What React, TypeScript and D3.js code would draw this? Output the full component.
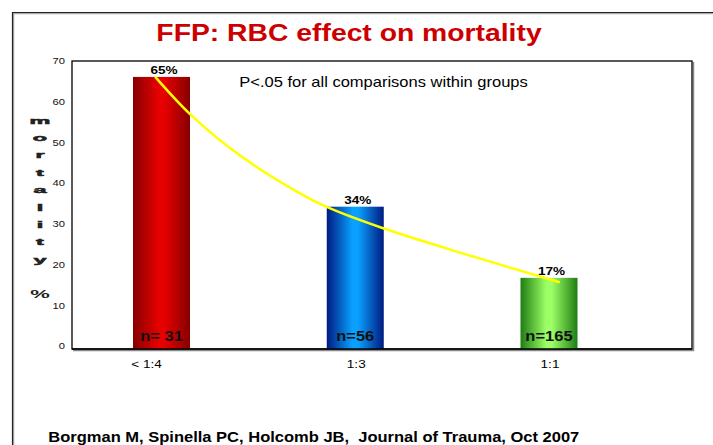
import React from "react";
import * as d3 from "d3";

const categories = ["< 1:4", "1:3", "1:1"];
const mortality = [65, 34, 17];
const pctLabels = ["65%", "34%", "17%"];
const nLabels = ["n= 31", "n=56", "n=165"];
const yTicks = [0, 10, 20, 30, 40, 50, 60, 70];
// trend curve: x as fractional category index, y as mortality %
const trendIdx = [-0.03, 0.15, 0.4, 0.71, 0.85, 1.14, 1.58, 2.05];
const trendVal = [64.9, 56.0, 46.4, 37.3, 34.0, 28.9, 22.5, 16.0];
const axisLetters = ["m", "o", "r", "t", "a", "l", "i", "t", "y"];

const title = "FFP: RBC effect on mortality";
const note = "P<.05 for all comparisons within groups";
const citation = "Borgman M, Spinella PC, Holcomb JB,  Journal of Trauma, Oct 2007";

const gradients = [
  { id: "gRed", edge: "#870000", mid: "#e60000" },
  { id: "gBlue", edge: "#001a80", mid: "#0aa0ff" },
  { id: "gGreen", edge: "#1e7d12", mid: "#9cff66" },
];

const SX = 1.18;
const FONT = "Arial, 'Liberation Sans', Helvetica, sans-serif";

function T(props: {
  x: number;
  y: number;
  size: number;
  anchor?: string;
  weight?: string | number;
  fill?: string;
  sx?: number;
  stroke?: number;
  children: React.ReactNode;
}) {
  const { x, y, size, anchor = "start", weight = "normal", fill = "#000", sx = SX, stroke = 0, children } = props;
  return (
    <text
      transform={`translate(${x},${y}) scale(${sx},1)`}
      fontFamily={FONT}
      fontSize={size}
      fontWeight={weight}
      fill={fill}
      stroke={stroke ? fill : "none"}
      strokeWidth={stroke}
      textAnchor={anchor}
      style={{ whiteSpace: "pre" }}
    >
      {children}
    </text>
  );
}

export default function App() {
  const W = 713;
  const H = 445;
  const plot = { left: 72, top: 61, right: 692, bottom: 349 };

  const y = d3.scaleLinear().domain([0, 70]).range([plot.bottom, 56]);
  const yLab = d3.scaleLinear().domain([0, 70]).range([346, 61]);
  const x = d3.scalePoint<string>().domain(categories).range([161.5, 549]);
  const xi = d3.scaleLinear().domain([0, 2]).range([161.5, 549]);
  const barW = 57;

  const line = d3
    .line<number>()
    .x((_, i) => xi(trendIdx[i]))
    .y((d) => y(d))
    .curve(d3.curveCatmullRom.alpha(0.5));

  const letterY = d3.scaleLinear().domain([0, axisLetters.length - 1]).range([120.7, 260]);

  return (
    <svg
      width={W}
      height={H}
      style={{ position: "absolute", left: 0, top: 0, background: "#fff" }}
    >
      <defs>
        {gradients.map((g) => (
          <linearGradient key={g.id} id={g.id} x1="0" x2="1" y1="0" y2="0">
            <stop offset="0" stopColor={g.edge} />
            <stop offset="0.45" stopColor={g.mid} />
            <stop offset="0.55" stopColor={g.mid} />
            <stop offset="1" stopColor={g.edge} />
          </linearGradient>
        ))}
      </defs>
      <rect x={0} y={0} width={W} height={H} fill="#fff" />

      {/* outer slide frame */}
      <path d={`M13.5,${H} V13.5 H${W}`} fill="none" stroke="#aaa" strokeWidth={1.5} />
      <path d={`M12.5,${H} V12.5 H${W}`} fill="none" stroke="#222" strokeWidth={1.2} />

      {/* title */}
      <T x={349} y={40.5} size={24} anchor="middle" weight="bold" fill="#cc0000">
        {title}
      </T>

      {/* plot frame with shadow */}
      <path
        d={`M${plot.right + 1.5},${plot.top + 1} V${plot.bottom + 1.5} H${plot.left + 1}`}
        fill="none"
        stroke="#888"
        strokeWidth={1.5}
      />
      <rect
        x={plot.left}
        y={plot.top}
        width={plot.right - plot.left}
        height={plot.bottom - plot.top}
        fill="#fff"
        stroke="#000"
        strokeWidth={1.3}
      />

      {/* bars */}
      {categories.map((c, i) => (
        <rect
          key={c}
          x={(x(c) as number) - barW / 2}
          y={y(mortality[i])}
          width={barW}
          height={y(0) - y(mortality[i])}
          fill={`url(#${gradients[i].id})`}
        />
      ))}
      <line x1={plot.left} x2={plot.right} y1={plot.bottom} y2={plot.bottom} stroke="#000" strokeWidth={1.3} />

      {/* trend curve */}
      <path d={line(trendVal) || ""} fill="none" stroke="#ffff00" strokeWidth={2.5} strokeLinecap="round" />

      {/* percentage labels */}
      {categories.map((c, i) => (
        <T key={c} x={(x(c) as number) + 2.5} y={y(mortality[i]) - 3} size={11.5} anchor="middle" weight="bold">
          {pctLabels[i]}
        </T>
      ))}

      {/* n labels */}
      {categories.map((c, i) => (
        <T key={c} x={x(c) as number} y={340.5} size={14} anchor="middle" weight="bold" fill="#111">
          {nLabels[i]}
        </T>
      ))}

      {/* y tick labels */}
      {yTicks.map((t) => (
        <T key={t} x={65} y={yLab(t) + 3.3} size={9.5} anchor="end" fill="#111">
          {String(t)}
        </T>
      ))}

      {/* x labels */}
      {categories.map((c, i) => (
        <T key={c} x={(x(c) as number) + (i === 0 ? -15 : 1)} y={368} size={11.5} anchor="middle">
          {c}
        </T>
      ))}

      {/* y axis title: stacked letters */}
      {axisLetters.map((l, i) => (
        <T key={i} x={40} y={letterY(i) + 2.8} size={9} anchor="middle" weight="bold" fill="#222" sx={2.6} stroke={0.5}>
          {l}
        </T>
      ))}
      <T x={40} y={298} size={10} anchor="middle" weight="bold" fill="#222" sx={2.2}>
        %
      </T>

      {/* note */}
      <T x={239.3} y={86.7} size={14}>
        {note}
      </T>

      {/* citation */}
      <T x={48.3} y={441.5} size={14} weight="bold">
        {citation}
      </T>
    </svg>
  );
}
